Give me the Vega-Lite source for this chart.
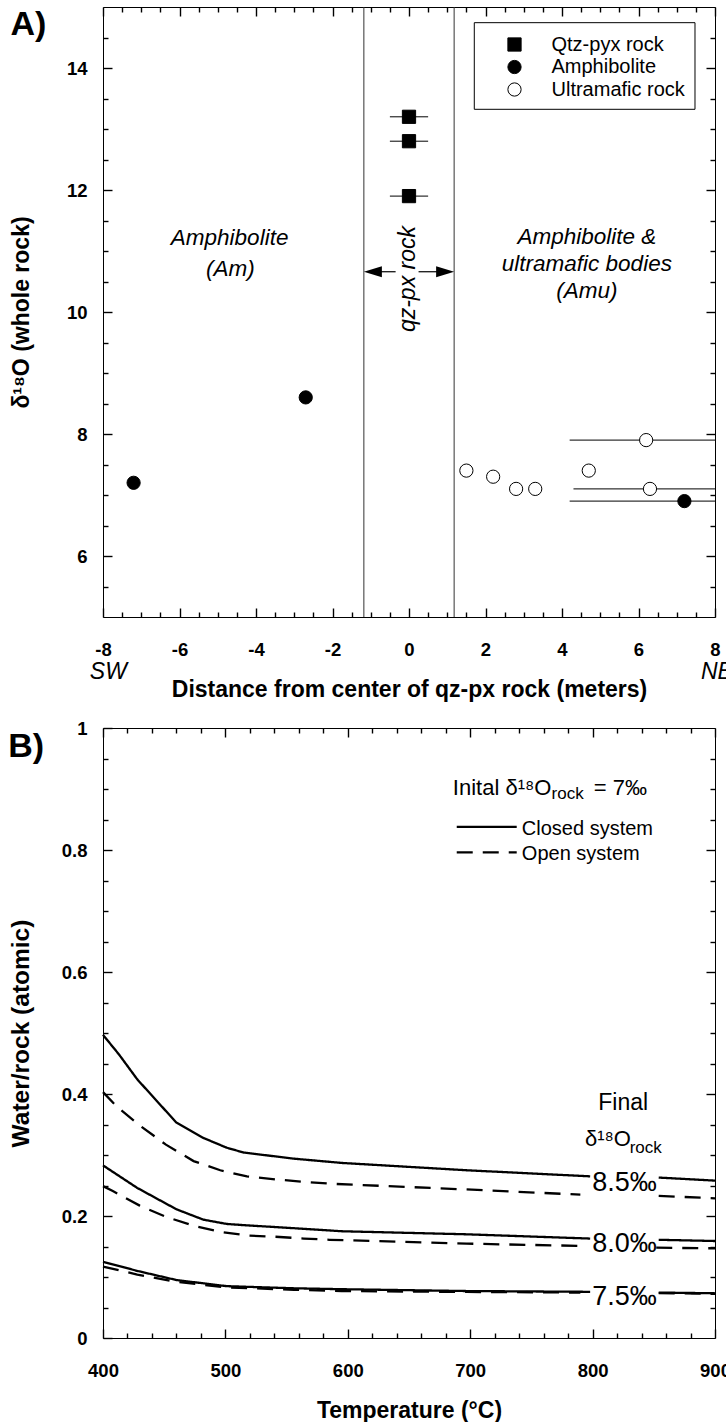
{
  "$schema": "https://vega.github.io/schema/vega-lite/v6.json",
  "padding": {"left": 7, "top": 5, "right": 0, "bottom": 0},
  "spacing": 16,
  "config": {
    "font": "Liberation Sans",
    "view": {"stroke": "black", "strokeWidth": 1},
    "axis": {"zindex": 2, "tickWidth": 1.4, "tickColor": "black", "tickOpacity": 1, "ticks": true}
  },
  "vconcat": [
    {
      "width": 612, "height": 610,
      "title": {"text": "A)", "anchor": "start", "frame": "bounds", "fontSize": 34, "fontWeight": "bold", "font": "Liberation Sans", "color": "black", "offset": -36},
      "resolve": {"axis": {"x": "independent", "y": "independent"}},
      "layer": [
        {
          "data": {"values": [{"bx": -1.18}, {"bx": 1.18}]},
          "mark": {"type": "rule", "color": "#333333", "strokeWidth": 1},
          "encoding": {"x": {"field": "bx", "type": "quantitative", "scale": {"domain": [-8, 8], "nice": false, "zero": false}, "axis": null}}
        },
        {
          "data": {"values": [{"x1": 1.707, "x2": 7.477, "y1": 13.323, "y2": 14.743}]},
          "mark": {"type": "rect", "fill": "white", "stroke": "black", "strokeWidth": 1},
          "encoding": {
            "x": {"field": "x1", "type": "quantitative", "scale": {"domain": [-8, 8], "nice": false, "zero": false},
                  "axis": {"orient": "bottom", "tickSize": -5, "zindex": 2, "domain": false, "labels": false, "grid": false, "title": null,
                           "values": [-7.5,-7,-6.5,-5.5,-5,-4.5,-3.5,-3,-2.5,-1.5,-1,-0.5,0.5,1,1.5,2.5,3,3.5,4.5,5,5.5,6.5,7,7.5]}},
            "x2": {"field": "x2"},
            "y": {"field": "y1", "type": "quantitative", "scale": {"domain": [5, 15], "nice": false, "zero": false},
                  "axis": {"orient": "left", "tickSize": -5, "zindex": 2, "domain": false, "labels": false, "grid": false, "title": null,
                           "values": [5.5,6.5,7,7.5,8.5,9,9.5,10.5,11,11.5,12.5,13,13.5,14.5]}},
            "y2": {"field": "y2"}
          }
        },
        {
          "data": {"values": [
            {"lo": -0.5, "hi": 0.5, "o": 13.2}, {"lo": -0.5, "hi": 0.5, "o": 12.8}, {"lo": -0.5, "hi": 0.5, "o": 11.9},
            {"lo": 4.2, "hi": 8, "o": 7.9}, {"lo": 4.3, "hi": 8, "o": 7.1}, {"lo": 4.2, "hi": 8, "o": 6.9}
          ]},
          "mark": {"type": "rule", "color": "black", "strokeWidth": 1},
          "encoding": {
            "x": {"field": "lo", "type": "quantitative", "scale": {"domain": [-8, 8], "nice": false, "zero": false},
                  "axis": {"orient": "top", "tickSize": -9, "zindex": 2, "domain": false, "labels": false, "grid": false, "title": null,
                           "values": [-8,-6,-4,-2,0,2,4,6,8]}},
            "x2": {"field": "hi"},
            "y": {"field": "o", "type": "quantitative", "scale": {"domain": [5, 15], "nice": false, "zero": false},
                  "axis": {"orient": "right", "tickSize": -9, "zindex": 2, "domain": false, "labels": false, "grid": false, "title": null,
                           "values": [6,8,10,12,14]}}
          }
        },
        {
          "data": {"values": [
            {"type": "Qtz-pyx rock", "d": 0, "o": 13.2},
            {"type": "Qtz-pyx rock", "d": 0, "o": 12.8},
            {"type": "Qtz-pyx rock", "d": 0, "o": 11.9},
            {"type": "Amphibolite", "d": -7.2, "o": 7.2},
            {"type": "Amphibolite", "d": -2.7, "o": 8.6},
            {"type": "Amphibolite", "d": 7.2, "o": 6.9},
            {"type": "Ultramafic rock", "d": 1.5, "o": 7.4},
            {"type": "Ultramafic rock", "d": 2.2, "o": 7.3},
            {"type": "Ultramafic rock", "d": 2.8, "o": 7.1},
            {"type": "Ultramafic rock", "d": 3.3, "o": 7.1},
            {"type": "Ultramafic rock", "d": 4.7, "o": 7.4},
            {"type": "Ultramafic rock", "d": 6.2, "o": 7.9},
            {"type": "Ultramafic rock", "d": 6.3, "o": 7.1}
          ]},
          "mark": {"type": "point", "filled": true, "size": 175, "strokeWidth": 1, "opacity": 1},
          "encoding": {
            "x": {"field": "d", "type": "quantitative", "scale": {"domain": [-8, 8], "nice": false, "zero": false},
                  "axis": {"orient": "bottom", "tickSize": -9, "zindex": 2, "domain": false, "grid": false,
                           "labelPadding": 32, "titlePadding": 20, "labelFlush": false, "labelOverlap": false,
                           "labelFont": "Liberation Sans", "labelFontSize": 18.5, "labelFontWeight": "bold", "labelColor": "black",
                           "titleFont": "Liberation Sans", "titleFontSize": 23, "titleFontWeight": "bold", "titleColor": "black",
                           "title": "Distance from center of qz-px rock (meters)",
                           "values": [-8,-6,-4,-2,0,2,4,6,8],
                           "labelExpr": "'' + datum.value"}},
            "y": {"field": "o", "type": "quantitative", "scale": {"domain": [5, 15], "nice": false, "zero": false},
                  "axis": {"orient": "left", "tickSize": -9, "zindex": 2, "domain": false, "grid": false,
                           "labelPadding": 25, "titlePadding": 33, "labelFlush": false, "labelOverlap": false,
                           "labelFont": "Liberation Sans", "labelFontSize": 18.5, "labelFontWeight": "bold", "labelColor": "black",
                           "titleFont": "Liberation Sans", "titleFontSize": 23, "titleFontWeight": "bold", "titleColor": "black",
                           "title": "δ¹⁸O (whole rock)",
                           "values": [6,8,10,12,14],
                           "labelExpr": "'' + datum.value"}},
            "shape": {"field": "type", "type": "nominal",
                      "scale": {"domain": ["Qtz-pyx rock", "Amphibolite", "Ultramafic rock"], "range": ["square", "circle", "circle"]},
                      "legend": {"title": null, "orient": "none", "legendX": 401.5, "legendY": 27.5, "padding": 0, "rowPadding": 2.5,
                                 "labelFont": "Liberation Sans", "labelFontSize": 20, "labelColor": "black",
                                 "symbolSize": 175, "symbolStrokeWidth": 1, "symbolOffset": 0, "labelOffset": 27}},
            "fill": {"field": "type", "type": "nominal",
                     "scale": {"domain": ["Qtz-pyx rock", "Amphibolite", "Ultramafic rock"], "range": ["black", "black", "white"]},
                     "legend": {"title": null, "orient": "none", "legendX": 401.5, "legendY": 27.5, "padding": 0, "rowPadding": 2.5,
                                "labelFont": "Liberation Sans", "labelFontSize": 20, "labelColor": "black",
                                "symbolSize": 175, "symbolStrokeWidth": 1, "symbolOffset": 0, "labelOffset": 27}},
            "stroke": {"field": "type", "type": "nominal",
                       "scale": {"domain": ["Qtz-pyx rock", "Amphibolite", "Ultramafic rock"], "range": ["black", "black", "black"]},
                       "legend": {"title": null, "orient": "none", "legendX": 401.5, "legendY": 27.5, "padding": 0, "rowPadding": 2.5,
                                  "labelFont": "Liberation Sans", "labelFontSize": 20, "labelColor": "black",
                                  "symbolSize": 175, "symbolStrokeWidth": 1, "symbolOffset": 0, "labelOffset": 27}}
          }
        },
        {
          "data": {"values": [
            {"label": "Amphibolite", "d": -4.69, "o": 11.21},
            {"label": "(Am)", "d": -4.67, "o": 10.7},
            {"label": "Amphibolite &", "d": 4.65, "o": 11.23},
            {"label": "ultramafic bodies", "d": 4.65, "o": 10.79},
            {"label": "(Amu)", "d": 4.65, "o": 10.35}
          ]},
          "mark": {"type": "text", "font": "Liberation Sans", "fontStyle": "italic", "fontSize": 22.5, "color": "black", "baseline": "middle", "align": "center"},
          "encoding": {
            "x": {"field": "d", "type": "quantitative", "scale": {"domain": [-8, 8], "nice": false, "zero": false},
                  "axis": {"orient": "top", "tickSize": -5, "zindex": 2, "domain": false, "labels": false, "grid": false, "title": null,
                           "values": [-7.5,-7,-6.5,-5.5,-5,-4.5,-3.5,-3,-2.5,-1.5,-1,-0.5,0.5,1,1.5,2.5,3,3.5,4.5,5,5.5,6.5,7,7.5]}},
            "y": {"field": "o", "type": "quantitative", "scale": {"domain": [5, 15], "nice": false, "zero": false},
                  "axis": {"orient": "right", "tickSize": -5, "zindex": 2, "domain": false, "labels": false, "grid": false, "title": null,
                           "values": [5.5,6.5,7,7.5,8.5,9,9.5,10.5,11,11.5,12.5,13,13.5,14.5]}},
            "text": {"field": "label"}
          }
        },
        {
          "data": {"values": [{"label": "qz-px rock", "d": -0.03, "o": 10.54}]},
          "mark": {"type": "text", "font": "Liberation Sans", "fontStyle": "italic", "fontSize": 23, "color": "black", "baseline": "middle", "align": "center", "angle": 270},
          "encoding": {
            "x": {"field": "d", "type": "quantitative", "scale": {"domain": [-8, 8], "nice": false, "zero": false}, "axis": null},
            "y": {"field": "o", "type": "quantitative", "scale": {"domain": [5, 15], "nice": false, "zero": false}, "axis": null},
            "text": {"field": "label"}
          }
        },
        {
          "data": {"values": [{"a": -1.0, "b": -0.35, "o": 10.66}, {"a": 0.25, "b": 1.0, "o": 10.66}]},
          "mark": {"type": "rule", "color": "black", "strokeWidth": 1.2},
          "encoding": {
            "x": {"field": "a", "type": "quantitative", "scale": {"domain": [-8, 8], "nice": false, "zero": false}, "axis": null},
            "x2": {"field": "b"},
            "y": {"field": "o", "type": "quantitative", "scale": {"domain": [5, 15], "nice": false, "zero": false}, "axis": null}
          }
        },
        {
          "data": {"values": [{"d": -0.945, "o": 10.66}]},
          "mark": {"type": "point", "shape": "M-1,0L1,-0.62L1,0.62Z", "filled": true, "color": "black", "size": 324, "opacity": 1},
          "encoding": {
            "x": {"field": "d", "type": "quantitative", "scale": {"domain": [-8, 8], "nice": false, "zero": false}, "axis": null},
            "y": {"field": "o", "type": "quantitative", "scale": {"domain": [5, 15], "nice": false, "zero": false}, "axis": null}
          }
        },
        {
          "data": {"values": [{"d": 0.945, "o": 10.66}]},
          "mark": {"type": "point", "shape": "M1,0L-1,-0.62L-1,0.62Z", "filled": true, "color": "black", "size": 324, "opacity": 1},
          "encoding": {
            "x": {"field": "d", "type": "quantitative", "scale": {"domain": [-8, 8], "nice": false, "zero": false}, "axis": null},
            "y": {"field": "o", "type": "quantitative", "scale": {"domain": [5, 15], "nice": false, "zero": false}, "axis": null}
          }
        },
        {
          "data": {"values": [{"label": "SW", "d": -7.86, "o": 4.1}, {"label": "NE", "d": 8.05, "o": 4.1}]},
          "mark": {"type": "text", "font": "Liberation Sans", "fontStyle": "italic", "fontSize": 23, "color": "black", "baseline": "middle", "align": "center"},
          "encoding": {
            "x": {"field": "d", "type": "quantitative", "scale": {"domain": [-8, 8], "nice": false, "zero": false}, "axis": null},
            "y": {"field": "o", "type": "quantitative", "scale": {"domain": [5, 15], "nice": false, "zero": false}, "axis": null},
            "text": {"field": "label"}
          }
        }
      ]
    },
    {
      "width": 612, "height": 610,
      "title": {"text": "B)", "anchor": "start", "frame": "bounds", "fontSize": 34, "fontWeight": "bold", "font": "Liberation Sans", "color": "black", "offset": -45},
      "resolve": {"axis": {"x": "independent", "y": "independent"}},
      "layer": [
        {
          "data": {"values": [
            {"system": "Closed system", "final": "8.5", "seg": "a", "T": 400, "wr": 0.497},
            {"system": "Closed system", "final": "8.5", "seg": "a", "T": 413, "wr": 0.465},
            {"system": "Closed system", "final": "8.5", "seg": "a", "T": 428, "wr": 0.424},
            {"system": "Closed system", "final": "8.5", "seg": "a", "T": 460, "wr": 0.353},
            {"system": "Closed system", "final": "8.5", "seg": "a", "T": 482, "wr": 0.328},
            {"system": "Closed system", "final": "8.5", "seg": "a", "T": 501, "wr": 0.312},
            {"system": "Closed system", "final": "8.5", "seg": "a", "T": 515, "wr": 0.304},
            {"system": "Closed system", "final": "8.5", "seg": "a", "T": 556, "wr": 0.294},
            {"system": "Closed system", "final": "8.5", "seg": "a", "T": 595, "wr": 0.287},
            {"system": "Closed system", "final": "8.5", "seg": "a", "T": 697, "wr": 0.275},
            {"system": "Closed system", "final": "8.5", "seg": "a", "T": 798, "wr": 0.265},
            {"system": "Closed system", "final": "8.5", "seg": "b", "T": 854, "wr": 0.263},
            {"system": "Closed system", "final": "8.5", "seg": "b", "T": 900, "wr": 0.258},
            {"system": "Open system", "final": "8.5", "seg": "a", "T": 400, "wr": 0.403},
            {"system": "Open system", "final": "8.5", "seg": "a", "T": 411.5, "wr": 0.379},
            {"system": "Open system", "final": "8.5", "seg": "a", "T": 429.6, "wr": 0.349},
            {"system": "Open system", "final": "8.5", "seg": "a", "T": 451.4, "wr": 0.317},
            {"system": "Open system", "final": "8.5", "seg": "a", "T": 474, "wr": 0.29},
            {"system": "Open system", "final": "8.5", "seg": "a", "T": 495.8, "wr": 0.275},
            {"system": "Open system", "final": "8.5", "seg": "a", "T": 517.6, "wr": 0.265},
            {"system": "Open system", "final": "8.5", "seg": "a", "T": 540.8, "wr": 0.26},
            {"system": "Open system", "final": "8.5", "seg": "a", "T": 564, "wr": 0.256},
            {"system": "Open system", "final": "8.5", "seg": "a", "T": 585, "wr": 0.253},
            {"system": "Open system", "final": "8.5", "seg": "a", "T": 697, "wr": 0.2435},
            {"system": "Open system", "final": "8.5", "seg": "a", "T": 790, "wr": 0.235},
            {"system": "Open system", "final": "8.5", "seg": "b", "T": 854, "wr": 0.233},
            {"system": "Open system", "final": "8.5", "seg": "b", "T": 900, "wr": 0.229},
            {"system": "Closed system", "final": "8.0", "seg": "a", "T": 400, "wr": 0.283},
            {"system": "Closed system", "final": "8.0", "seg": "a", "T": 428, "wr": 0.246},
            {"system": "Closed system", "final": "8.0", "seg": "a", "T": 460, "wr": 0.211},
            {"system": "Closed system", "final": "8.0", "seg": "a", "T": 482, "wr": 0.194},
            {"system": "Closed system", "final": "8.0", "seg": "a", "T": 501, "wr": 0.187},
            {"system": "Closed system", "final": "8.0", "seg": "a", "T": 515, "wr": 0.185},
            {"system": "Closed system", "final": "8.0", "seg": "a", "T": 556, "wr": 0.18},
            {"system": "Closed system", "final": "8.0", "seg": "a", "T": 595, "wr": 0.175},
            {"system": "Closed system", "final": "8.0", "seg": "a", "T": 697, "wr": 0.17},
            {"system": "Closed system", "final": "8.0", "seg": "a", "T": 798, "wr": 0.163},
            {"system": "Closed system", "final": "8.0", "seg": "b", "T": 854, "wr": 0.161},
            {"system": "Closed system", "final": "8.0", "seg": "b", "T": 900, "wr": 0.159},
            {"system": "Open system", "final": "8.0", "seg": "a", "T": 400, "wr": 0.249},
            {"system": "Open system", "final": "8.0", "seg": "a", "T": 408, "wr": 0.241},
            {"system": "Open system", "final": "8.0", "seg": "a", "T": 430, "wr": 0.217},
            {"system": "Open system", "final": "8.0", "seg": "a", "T": 451, "wr": 0.199},
            {"system": "Open system", "final": "8.0", "seg": "a", "T": 474, "wr": 0.184},
            {"system": "Open system", "final": "8.0", "seg": "a", "T": 496, "wr": 0.174},
            {"system": "Open system", "final": "8.0", "seg": "a", "T": 518, "wr": 0.168},
            {"system": "Open system", "final": "8.0", "seg": "a", "T": 541, "wr": 0.166},
            {"system": "Open system", "final": "8.0", "seg": "a", "T": 564, "wr": 0.163},
            {"system": "Open system", "final": "8.0", "seg": "a", "T": 585, "wr": 0.161},
            {"system": "Open system", "final": "8.0", "seg": "a", "T": 697, "wr": 0.1547},
            {"system": "Open system", "final": "8.0", "seg": "a", "T": 790, "wr": 0.151},
            {"system": "Open system", "final": "8.0", "seg": "b", "T": 852, "wr": 0.148},
            {"system": "Open system", "final": "8.0", "seg": "b", "T": 900, "wr": 0.147},
            {"system": "Closed system", "final": "7.5", "seg": "a", "T": 400, "wr": 0.125},
            {"system": "Closed system", "final": "7.5", "seg": "a", "T": 428, "wr": 0.11},
            {"system": "Closed system", "final": "7.5", "seg": "a", "T": 460, "wr": 0.095},
            {"system": "Closed system", "final": "7.5", "seg": "a", "T": 501, "wr": 0.085},
            {"system": "Closed system", "final": "7.5", "seg": "a", "T": 556, "wr": 0.0815},
            {"system": "Closed system", "final": "7.5", "seg": "a", "T": 595, "wr": 0.08},
            {"system": "Closed system", "final": "7.5", "seg": "a", "T": 697, "wr": 0.077},
            {"system": "Closed system", "final": "7.5", "seg": "a", "T": 798, "wr": 0.0757},
            {"system": "Closed system", "final": "7.5", "seg": "b", "T": 854, "wr": 0.0745},
            {"system": "Closed system", "final": "7.5", "seg": "b", "T": 900, "wr": 0.0733},
            {"system": "Open system", "final": "7.5", "seg": "a", "T": 400, "wr": 0.117},
            {"system": "Open system", "final": "7.5", "seg": "a", "T": 428, "wr": 0.104},
            {"system": "Open system", "final": "7.5", "seg": "a", "T": 460, "wr": 0.092},
            {"system": "Open system", "final": "7.5", "seg": "a", "T": 501, "wr": 0.083},
            {"system": "Open system", "final": "7.5", "seg": "a", "T": 556, "wr": 0.079},
            {"system": "Open system", "final": "7.5", "seg": "a", "T": 595, "wr": 0.077},
            {"system": "Open system", "final": "7.5", "seg": "a", "T": 697, "wr": 0.0755},
            {"system": "Open system", "final": "7.5", "seg": "a", "T": 790, "wr": 0.0745},
            {"system": "Open system", "final": "7.5", "seg": "b", "T": 854, "wr": 0.0735},
            {"system": "Open system", "final": "7.5", "seg": "b", "T": 900, "wr": 0.0725}
          ]},
          "mark": {"type": "line", "color": "black", "strokeWidth": 2.3},
          "encoding": {
            "x": {"field": "T", "type": "quantitative", "scale": {"domain": [400, 900], "nice": false, "zero": false},
                  "axis": {"orient": "bottom", "tickSize": -9, "zindex": 2, "domain": false, "grid": false,
                           "labelPadding": 32, "titlePadding": 20, "labelFlush": false, "labelOverlap": false,
                           "labelFont": "Liberation Sans", "labelFontSize": 18.5, "labelFontWeight": "bold", "labelColor": "black",
                           "titleFont": "Liberation Sans", "titleFontSize": 23, "titleFontWeight": "bold", "titleColor": "black",
                           "title": "Temperature (°C)",
                           "values": [400,500,600,700,800,900],
                           "labelExpr": "'' + datum.value"}},
            "y": {"field": "wr", "type": "quantitative", "scale": {"domain": [0, 1], "nice": false, "zero": false},
                  "axis": {"orient": "left", "tickSize": -9, "zindex": 2, "domain": false, "grid": false,
                           "labelPadding": 25, "titlePadding": 28, "labelFlush": false, "labelOverlap": false,
                           "labelFont": "Liberation Sans", "labelFontSize": 18.5, "labelFontWeight": "bold", "labelColor": "black",
                           "titleFont": "Liberation Sans", "titleFontSize": 24.5, "titleFontWeight": "bold", "titleColor": "black",
                           "title": "Water/rock (atomic)",
                           "values": [0,0.2,0.4,0.6,0.8,1],
                           "labelExpr": "'' + datum.value"}},
            "strokeDash": {"field": "system", "type": "nominal", "scale": {"domain": ["Closed system", "Open system"], "range": [[1, 0], [16, 10]]}, "legend": null},
            "detail": [{"field": "final"}, {"field": "seg"}]
          }
        },
        {
          "data": {"values": [
            {"system": "Closed system", "a": 689, "b": 738, "wr": 0.838},
            {"system": "Open system", "a": 689, "b": 738, "wr": 0.796}
          ]},
          "mark": {"type": "rule", "color": "black", "strokeWidth": 2.3},
          "encoding": {
            "x": {"field": "a", "type": "quantitative", "scale": {"domain": [400, 900], "nice": false, "zero": false},
                  "axis": {"orient": "bottom", "tickSize": -5, "zindex": 2, "domain": false, "labels": false, "grid": false, "title": null,
                           "values": [420,440,460,480,520,540,560,580,620,640,660,680,720,740,760,780,820,840,860,880]}},
            "x2": {"field": "b"},
            "y": {"field": "wr", "type": "quantitative", "scale": {"domain": [0, 1], "nice": false, "zero": false},
                  "axis": {"orient": "left", "tickSize": -5, "zindex": 2, "domain": false, "labels": false, "grid": false, "title": null,
                           "values": [0.05,0.1,0.15,0.25,0.3,0.35,0.45,0.5,0.55,0.65,0.7,0.75,0.85,0.9,0.95]}},
            "strokeDash": {"field": "system", "type": "nominal", "scale": {"domain": ["Closed system", "Open system"], "range": [[1, 0], [16, 10]]}, "legend": null}
          }
        },
        {
          "data": {"values": [
            {"label": "8.5‰", "T": 826, "wr": 0.2545},
            {"label": "8.0‰", "T": 826, "wr": 0.1546},
            {"label": "7.5‰", "T": 826, "wr": 0.068}
          ]},
          "mark": {"type": "text", "font": "Liberation Sans", "fontSize": 27, "color": "black", "baseline": "middle", "align": "center"},
          "encoding": {
            "x": {"field": "T", "type": "quantitative", "scale": {"domain": [400, 900], "nice": false, "zero": false},
                  "axis": {"orient": "top", "tickSize": -9, "zindex": 2, "domain": false, "labels": false, "grid": false, "title": null,
                           "values": [400,500,600,700,800,900]}},
            "y": {"field": "wr", "type": "quantitative", "scale": {"domain": [0, 1], "nice": false, "zero": false},
                  "axis": {"orient": "right", "tickSize": -9, "zindex": 2, "domain": false, "labels": false, "grid": false, "title": null,
                           "values": [0.2,0.4,0.6,0.8]}},
            "text": {"field": "label"}
          }
        },
        {
          "data": {"values": [{"label": "Final", "T": 825, "wr": 0.385}]},
          "mark": {"type": "text", "font": "Liberation Sans", "fontSize": 23, "color": "black", "baseline": "middle", "align": "center"},
          "encoding": {
            "x": {"field": "T", "type": "quantitative", "scale": {"domain": [400, 900], "nice": false, "zero": false},
                  "axis": {"orient": "top", "tickSize": -5, "zindex": 2, "domain": false, "labels": false, "grid": false, "title": null,
                           "values": [420,440,460,480,520,540,560,580,620,640,660,680,720,740,760,780,820,840,860,880]}},
            "y": {"field": "wr", "type": "quantitative", "scale": {"domain": [0, 1], "nice": false, "zero": false},
                  "axis": {"orient": "right", "tickSize": -5, "zindex": 2, "domain": false, "labels": false, "grid": false, "title": null,
                           "values": [0.05,0.1,0.15,0.25,0.3,0.35,0.45,0.5,0.55,0.65,0.7,0.75,0.85,0.9,0.95]}},
            "text": {"field": "label"}
          }
        },
        {
          "data": {"values": [
            {"label": "δ¹⁸O", "T": 793.7, "wr": 0.3147},
            {"label": "Inital δ¹⁸O", "T": 685.8, "wr": 0.89},
            {"label": "= 7‰", "T": 801, "wr": 0.89}
          ]},
          "mark": {"type": "text", "font": "Liberation Sans", "fontSize": 22, "color": "black", "baseline": "alphabetic", "align": "left"},
          "encoding": {
            "x": {"field": "T", "type": "quantitative", "scale": {"domain": [400, 900], "nice": false, "zero": false}, "axis": null},
            "y": {"field": "wr", "type": "quantitative", "scale": {"domain": [0, 1], "nice": false, "zero": false}, "axis": null},
            "text": {"field": "label"}
          }
        },
        {
          "data": {"values": [
            {"label": "rock", "T": 830.3, "wr": 0.303},
            {"label": "rock", "T": 766.5, "wr": 0.883}
          ]},
          "mark": {"type": "text", "font": "Liberation Sans", "fontSize": 17, "color": "black", "baseline": "alphabetic", "align": "left"},
          "encoding": {
            "x": {"field": "T", "type": "quantitative", "scale": {"domain": [400, 900], "nice": false, "zero": false}, "axis": null},
            "y": {"field": "wr", "type": "quantitative", "scale": {"domain": [0, 1], "nice": false, "zero": false}, "axis": null},
            "text": {"field": "label"}
          }
        },
        {
          "data": {"values": [
            {"label": "Closed system", "T": 742.2, "wr": 0.824},
            {"label": "Open system", "T": 742.2, "wr": 0.783}
          ]},
          "mark": {"type": "text", "font": "Liberation Sans", "fontSize": 20, "color": "black", "baseline": "alphabetic", "align": "left"},
          "encoding": {
            "x": {"field": "T", "type": "quantitative", "scale": {"domain": [400, 900], "nice": false, "zero": false}, "axis": null},
            "y": {"field": "wr", "type": "quantitative", "scale": {"domain": [0, 1], "nice": false, "zero": false}, "axis": null},
            "text": {"field": "label"}
          }
        }
      ]
    }
  ]
}
